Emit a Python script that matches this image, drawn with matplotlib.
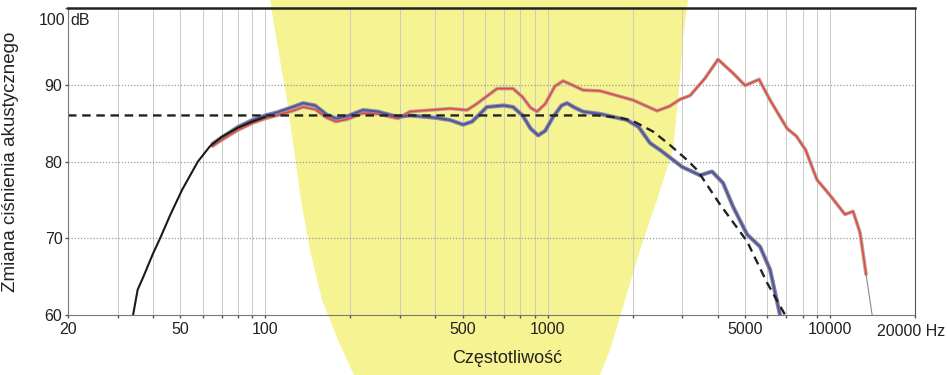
import numpy as np
import matplotlib
matplotlib.use('Agg')
import matplotlib.pyplot as plt
from matplotlib.patches import Polygon
from matplotlib.ticker import FixedLocator, NullFormatter

# --- data (Hz, dB) ---
black_freq = [34, 35.3, 37, 40, 42.4, 46, 50.7, 57.7, 63.7, 70, 80, 90, 100]
black_db = [60, 63.3, 65, 68, 70, 73, 76.3, 80, 82, 83.2, 84.4, 85.2, 85.8]

dashed_freq = [20, 1500, 1805, 2000, 2362, 2700, 3117, 3382, 4079, 5084, 5985, 6935]
dashed_db = [86, 86, 85.7, 85.3, 83.9, 82.2, 80.2, 78.9, 74.4, 69.6, 64.2, 60]

blue_freq = [65, 70, 80, 90, 100, 110, 125, 136, 150, 165, 178, 195, 222, 250,
             295, 325, 400, 451, 502, 540, 609, 700, 754, 815, 870, 925, 980,
             1045, 1120, 1171, 1250, 1334, 1533, 1910, 2100, 2305, 2501, 2993,
             3466, 3820, 4180, 4537, 5084, 5653, 6134, 6652]
blue_db = [82.3, 83.1, 84.5, 85.4, 86.0, 86.4, 87.1, 87.6, 87.3, 86.1, 85.6,
           85.9, 86.7, 86.5, 85.8, 86.0, 85.7, 85.4, 84.8, 85.2, 87.1, 87.3,
           87.1, 86.0, 84.3, 83.4, 84.0, 85.8, 87.3, 87.6, 87.0, 86.5, 86.2,
           85.4, 84.5, 82.4, 81.5, 79.3, 78.2, 78.7, 77.2, 74.1, 70.5, 68.9,
           65.9, 60]

red_freq = [65, 70, 80, 90, 100, 110, 125, 136, 150, 165, 178, 195, 222, 250,
            295, 325, 416, 451, 518, 560, 662, 754, 815, 870, 917, 980, 1060,
            1134, 1250, 1334, 1533, 2006, 2441, 2700, 2944, 3196, 3600, 4013,
            4537, 5003, 5608, 6134, 7046, 7600, 8200, 8716, 9000, 10003, 11300,
            12070, 12780, 13420]
red_db = [82.0, 82.8, 84.1, 85.0, 85.6, 86.0, 86.6, 87.1, 86.8, 85.7, 85.2,
          85.5, 86.3, 86.2, 85.6, 86.5, 86.8, 86.9, 86.7, 87.5, 89.5, 89.5,
          88.4, 87.0, 86.5, 87.5, 89.8, 90.5, 89.8, 89.3, 89.2, 88.0, 86.6,
          87.2, 88.1, 88.6, 90.8, 93.3, 91.5, 89.9, 90.7, 88.0, 84.3, 83.3,
          81.5, 78.9, 77.6, 75.6, 73.1, 73.5, 70.7, 65.3]

tail_freq = [13420, 14100]
tail_db = [65.3, 60]

x_ticks = [20, 50, 100, 500, 1000, 5000, 10000, 20000]
x_labels = ['20', '50', '100', '500', '1000', '5000', '10000', '']
y_ticks = [60, 70, 80, 90, 100]
y_labels = ['60', '70', '80', '90', '']

# yellow beam outline in figure pixels (x, y from top)
beam_left = [(270, 0), (280, 60), (287, 100), (294, 150), (301, 200), (310, 250), (322, 300), (338, 340), (354, 375)]
beam_right = [(600, 375), (610, 350), (625, 300), (640, 250), (657, 200), (673, 150), (678, 100), (683, 40), (688, 0)]

plt.rcParams['font.family'] = ['Liberation Sans', 'DejaVu Sans']

W, H = 947, 375
fig = plt.figure(figsize=(W / 100, H / 100), dpi=100)
fig.patch.set_facecolor('white')

pts = [(x / W, 1 - y / H) for x, y in beam_left + beam_right]
fig.add_artist(Polygon(pts, closed=True, transform=fig.transFigure,
                       facecolor='#f6f392', edgecolor='none', zorder=-1))

ax = fig.add_axes([68 / W, 1 - 315 / H, (915 - 68) / W, (315 - 8) / H])
ax.set_facecolor('none')
ax.set_xscale('log')
ax.set_xlim(20, 20000)
ax.set_ylim(60, 100)

# grid
minor = [m * 10 ** e for e in range(1, 5) for m in range(1, 10)]
minor = [v for v in minor if 20 < v < 20000]
for v in minor:
    ax.axvline(v, color='#cacaca', lw=0.7, zorder=1)
for v in [70, 80, 90]:
    ax.axhline(v, color='#9a9a9a', lw=0.9, ls=(0, (1, 1.5)), zorder=1)

# curves
ax.plot(black_freq, black_db, color='#1a1a1a', lw=1.5, zorder=4)
ax.plot(red_freq, red_db, color='#b9a49a', lw=2.6, zorder=3, solid_capstyle='round')
ax.plot(red_freq, red_db, color='#e8463a', lw=1.1, zorder=3.5)
ax.plot(tail_freq, tail_db, color='#8a8a8a', lw=0.8, zorder=3)
ax.plot(blue_freq, blue_db, color='#8a8a98', lw=3.0, zorder=3, solid_capstyle='round')
ax.plot(blue_freq, blue_db, color='#4f52a6', lw=1.3, zorder=3.5)
ax.plot(dashed_freq, dashed_db, color='#222222', lw=1.7, ls=(0, (3.6, 2.4)), zorder=5)

# axes styling
ax.xaxis.set_major_locator(FixedLocator(x_ticks))
ax.xaxis.set_minor_locator(FixedLocator(minor))
ax.xaxis.set_minor_formatter(NullFormatter())
ax.set_xticklabels(x_labels)
ax.set_yticks(y_ticks)
ax.set_yticklabels(y_labels)
ax.tick_params(axis='both', which='both', length=2, width=1, color='#555555',
               labelsize=11.5, labelcolor='#222222')
ax.tick_params(axis='x', which='major', pad=3)
ax.tick_params(axis='y', which='major', pad=2)
ax.tick_params(axis='x', which='minor', length=2)
ax.spines['top'].set_linewidth(1.8)
ax.spines['top'].set_color('#222222')
ax.spines['right'].set_color('#555555')
ax.spines['left'].set_color('#777777')
ax.spines['bottom'].set_color('#777777')
for s in ax.spines.values():
    s.set_zorder(6)

# "100 dB" and "20000 Hz" labels
ax.text(-0.003, 0.985, '100', transform=ax.transAxes, fontsize=11.5,
        color='#222222', va='top', ha='right')
ax.text(0.003, 0.985, 'dB', transform=ax.transAxes, fontsize=11.5,
        color='#222222', va='top', ha='left')
ax.text(0.9953, -0.028, '20000 Hz', transform=ax.transAxes, fontsize=11.5,
        color='#222222', va='top', ha='center')

ax.set_ylabel('Zmiana ciśnienia akustycznego', fontsize=13.5, color='#222222')
ax.yaxis.set_label_coords(-0.058, 0.5)
ax.set_xlabel('Częstotliwość', fontsize=13, color='#222222')
ax.xaxis.set_label_coords(0.518, -0.115)

fig.savefig('out.png', dpi=100)
